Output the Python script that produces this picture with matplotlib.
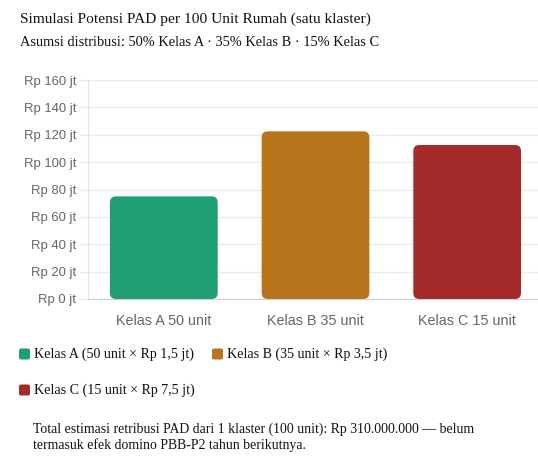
import matplotlib
matplotlib.use("Agg")
import matplotlib.pyplot as plt
from matplotlib.patches import FancyBboxPatch
from matplotlib.transforms import IdentityTransform

# data
kelas = ["Kelas A", "Kelas B", "Kelas C"]
units = [50, 35, 15]
harga_jt = ["1,5", "3,5", "7,5"]
pad_jt = [75, 122.5, 112.5]
colors = ["#1f9e75", "#b8741a", "#a52a2a"]
y_ticks = [0, 20, 40, 60, 80, 100, 120, 140, 160]

W, H = 538, 467
fig = plt.figure(figsize=(W / 100, H / 100), dpi=100)

def px(x, y):
    # top-left pixel position -> display coords
    return x, H - y

serif = ["Liberation Serif", "DejaVu Serif"]
sans = ["Liberation Sans", "DejaVu Sans"]

fig.text(20 / W, 1 - 19 / H, "Simulasi Potensi PAD per 100 Unit Rumah (satu klaster)",
         family=serif, fontsize=11.05, color="#111111", va="center", ha="left")
fig.text(20 / W, 1 - 42 / H, "Asumsi distribusi: 50% Kelas A \u00b7 35% Kelas B \u00b7 15% Kelas C",
         family=serif, fontsize=10.35, color="#111111", va="center", ha="left")

ax_l, ax_r, ax_t, ax_b = 88, 543, 80, 299
ax = fig.add_axes([ax_l / W, 1 - ax_b / H, (ax_r - ax_l) / W, (ax_b - ax_t) / H])

xpos = list(range(len(kelas)))
bars = ax.bar(xpos, pad_jt, width=0.71, color=colors)
ax.set_xlim(-0.5, 2.5)
ax.set_ylim(0, 160)

# rounded corners
pxx = (ax_r - ax_l) / 3
pxy = (ax_b - ax_t) / 160
r = 6
for b, c in zip(bars, colors):
    b.set_visible(False)
    ax.add_patch(FancyBboxPatch((b.get_x(), b.get_y()), b.get_width(), b.get_height(),
                                boxstyle=f"round,pad=0,rounding_size={r / pxx}",
                                mutation_aspect=pxx / pxy, facecolor=c,
                                edgecolor="none", zorder=3))

ax.set_yticks(y_ticks)
ax.set_yticklabels([f"Rp {v} jt" for v in y_ticks], family=sans, fontsize=9.4, color="#666666")
ax.set_xticks(xpos)
ax.set_xticklabels([f"{k} {u} unit" for k, u in zip(kelas, units)], family=sans,
                   fontsize=10.4, color="#666666")
ax.tick_params(axis="y", length=6.5, width=0.8, color="#ececec", pad=2.2)
ax.tick_params(axis="x", length=0, pad=11)
ax.grid(axis="y", color="#ececec", linewidth=1, zorder=0)
ax.set_axisbelow(True)
for s in ["top", "right"]:
    ax.spines[s].set_visible(False)
ax.spines["left"].set_color("#e4e4e4")
ax.spines["bottom"].set_color("#d4d4d4")

# legend
leg_pos = [(19, 354), (212, 354), (19, 390)]
for k, u, h, c, (lx, ly) in zip(kelas, units, harga_jt, colors, leg_pos):
    x0, y0 = px(lx, ly + 5.5)
    fig.add_artist(FancyBboxPatch((x0, y0), 11, 11, boxstyle="round,pad=0,rounding_size=2",
                                  facecolor=c, edgecolor="none", transform=IdentityTransform()))
    fig.text((lx + 15) / W, 1 - ly / H, f"{k} ({u} unit \u00d7 Rp {h} jt)",
             family=serif, fontsize=10.1, color="#111111", va="center", ha="left")

total = sum(u * float(h.replace(",", ".")) for u, h in zip(units, harga_jt)) * 1_000_000
total_str = f"{int(total):,}".replace(",", ".")
fig.text(33 / W, 1 - 437 / H,
         f"Total estimasi retribusi PAD dari 1 klaster (100 unit): Rp {total_str} \u2014 belum\n"
         "termasuk efek domino PBB-P2 tahun berikutnya.",
         family=serif, fontsize=9.95, color="#111111", va="center", ha="left",
         linespacing=1.25)

fig.savefig("out.png", dpi=100)
